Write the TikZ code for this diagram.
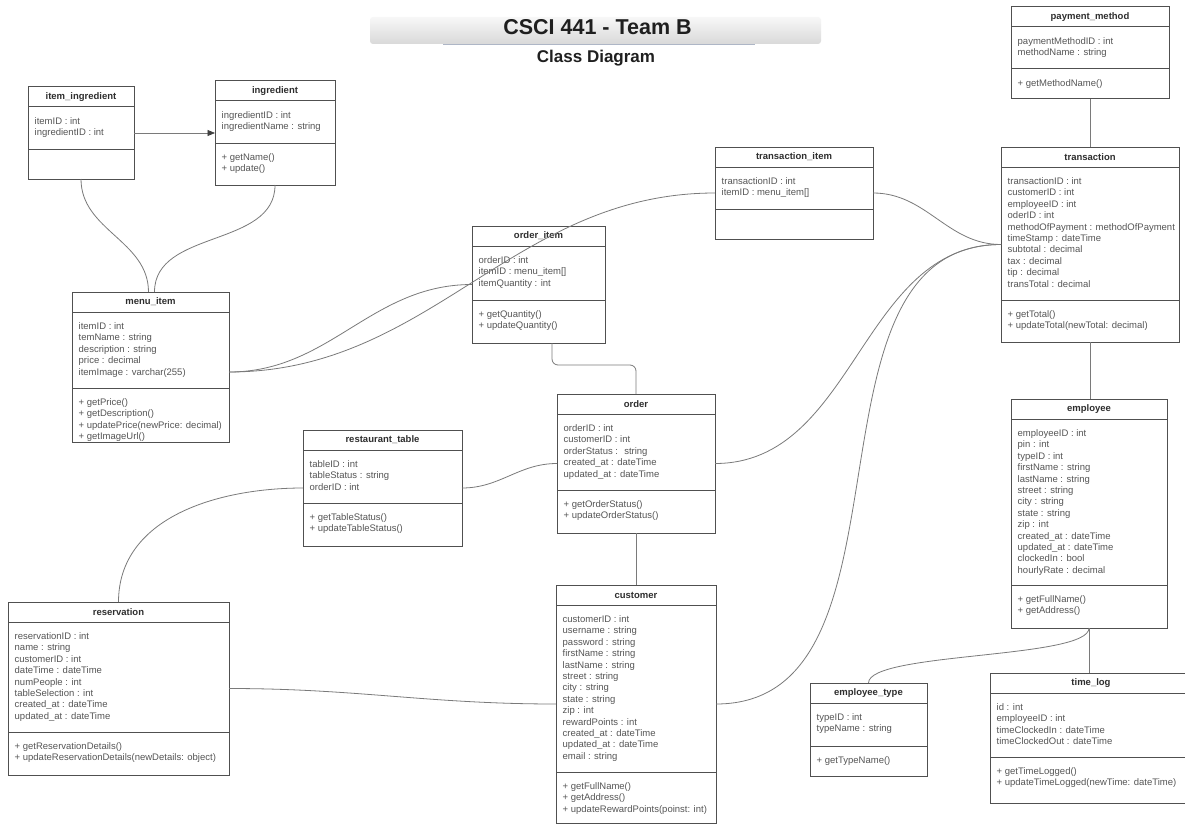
\documentclass[tikz,border=0pt]{standalone}
\usepackage{fontspec}
\setmainfont{Liberation Sans}
\usetikzlibrary{arrows.meta,fit}

\definecolor{boxline}{HTML}{505050}
\definecolor{wire}{HTML}{7A7A7A}
\definecolor{attrtext}{HTML}{555555}
\definecolor{titletext}{HTML}{2E2E2E}
\definecolor{bannerline}{HTML}{AEB6C6}

\tikzset{
  classframe/.style={draw=boxline, line width=1pt, inner sep=0pt, outer sep=0pt, fill=white},
  classtitle/.style={font=\bfseries\fontsize{9.5}{11.4}\selectfont, text=titletext, inner sep=0pt},
  members/.style={anchor=north west, align=left, inner sep=0pt,
    font=\fontsize{9.5}{11.4}\selectfont, text=attrtext},
  wire/.style={draw=wire, line width=0.8pt},
}

% UML class box:
% #1 name, #2 left, #3 top, #4 right, #5 bottom, #6 y of the methods rule,
% #7 class name, #8 attributes, #9 methods
\newcommand\umlclass[9]{%
  \node[classframe, fit={(#2,#3) (#4,#5)}] (#1) {};
  \draw[boxline, line width=1pt] (#2,#3+20) -- (#4,#3+20) (#2,#6) -- (#4,#6);
  \node[classtitle] at ({(#2+#4)/2},#3+10) {#7};
  \node[members] at (#2+6.5,#3+30.5) {#8};
  \node[members] at (#2+6.5,#6+10.5) {#9};
}

\begin{document}
\begin{tikzpicture}[x=1pt,y=-1pt]
\useasboundingbox (0,0) rectangle (1185,824);
\fill[white] (0,0) rectangle (1185,824);

% heading
\shade[top color=white!97!black, bottom color=white!85!black, rounded corners=3pt]
  (370,17) rectangle (821,44);
\draw[bannerline, line width=0.8pt] (443,44.5) -- (755,44.5);
\node[anchor=base, font=\bfseries\fontsize{21.5}{24}\selectfont, text=black!88, inner sep=0pt]
  (heading) at (597.5,34.3) {CSCI 441 - Team B};
\node[anchor=base, font=\bfseries\fontsize{17}{20}\selectfont, text=black!88, inner sep=0pt]
  (subheading) at (596,62.5) {Class Diagram};

% classes
\umlclass{ii}{28}{87}{134}{179}{149}{item\_ingredient}
  {itemID : int\\ingredientID : int}{}
\umlclass{ing}{215}{81}{335}{185}{143}{ingredient}
  {ingredientID : int\\ingredientName : string}
  {+ getName()\\+ update()}
\umlclass{menu}{72}{292}{229}{442}{388}{menu\_item}
  {itemID : int\\temName : string\\description : string\\price : decimal\\itemImage : varchar(255)}
  {+ getPrice()\\+ getDescription()\\+ updatePrice(newPrice: decimal)\\+ getImageUrl()}
\umlclass{oi}{472}{226}{605}{343}{300}{order\_item}
  {orderID : int\\itemID : menu\_item[]\\itemQuantity : int}
  {+ getQuantity()\\+ updateQuantity()}
\umlclass{ti}{715}{147}{873}{239}{209}{transaction\_item}
  {transactionID : int\\itemID : menu\_item[]}{}
\umlclass{tr}{1001}{147}{1179}{342}{300}{transaction}
  {transactionID : int\\customerID : int\\employeeID : int\\oderID : int\\methodOfPayment : methodOfPayment\\timeStamp : dateTime\\subtotal : decimal\\tax : decimal\\tip : decimal\\transTotal : decimal}
  {+ getTotal()\\+ updateTotal(newTotal: decimal)}
\umlclass{pm}{1011}{7}{1169}{99}{69}{payment\_method}
  {paymentMethodID : int\\methodName : string}
  {+ getMethodName()}
\umlclass{rt}{303}{430}{462}{546}{503}{restaurant\_table}
  {tableID : int\\tableStatus : string\\orderID : int}
  {+ getTableStatus()\\+ updateTableStatus()}
\umlclass{ord}{557}{394}{715}{533}{490}{order}
  {orderID : int\\customerID : int\\orderStatus : \ string\\created\_at : dateTime\\updated\_at : dateTime}
  {+ getOrderStatus()\\+ updateOrderStatus()}
\umlclass{res}{8}{602}{229}{775}{732}{reservation}
  {reservationID : int\\name : string\\customerID : int\\dateTime : dateTime\\numPeople : int\\tableSelection : int\\created\_at : dateTime\\updated\_at : dateTime}
  {+ getReservationDetails()\\+ updateReservationDetails(newDetails: object)}
\umlclass{cust}{556}{585}{716}{823}{772}{customer}
  {customerID : int\\username : string\\password : string\\firstName : string\\lastName : string\\street : string\\city : string\\state : string\\zip : int\\rewardPoints : int\\created\_at : dateTime\\updated\_at : dateTime\\email : string}
  {+ getFullName()\\+ getAddress()\\+ updateRewardPoints(poinst: int)}
\umlclass{emp}{1011}{399}{1167}{628}{585}{employee}
  {employeeID : int\\pin : int\\typeID : int\\firstName : string\\lastName : string\\street : string\\city : string\\state : string\\zip : int\\created\_at : dateTime\\updated\_at : dateTime\\clockedIn : bool\\hourlyRate : decimal}
  {+ getFullName()\\+ getAddress()}
\umlclass{et}{810}{683}{927}{776}{746}{employee\_type}
  {typeID : int\\typeName : string}
  {+ getTypeName()}
\umlclass{tl}{990}{673}{1192}{803}{757}{time\_log}
  {id : int\\employeeID : int\\timeClockedIn : dateTime\\timeClockedOut : dateTime}
  {+ getTimeLogged()\\+ updateTimeLogged(newTime: dateTime)}

% associations
\draw[wire, -{Triangle[length=7.5pt,width=6pt,color=black!75]}] (ii.east) -- (ing.west);
\draw[wire] (ii.south) to[out=-90,in=90] ([xshift=-2pt]menu.north);
\draw[wire] (ing.south) to[out=-90,in=90] ([xshift=4pt]menu.north);
\draw[wire] ([yshift=-5pt]menu.east) to[out=0,in=180] (oi.west);
\draw[wire] ([yshift=-5pt]menu.east) to[out=0,in=180] (ti.west);
\draw[wire, rounded corners=6pt] ([xshift=13.5pt]oi.south) -- ++(0,22) -| (ord.north);
\draw[wire] (ti.east) to[out=0,in=180] (tr.west);
\draw[wire] (ord.east) to[out=0,in=180] (tr.west);
\draw[wire] (cust.east) to[out=0,in=180] (tr.west);
\draw[wire] (pm.south) -- (pm.south |- tr.north);
\draw[wire] (tr.south) -- (tr.south |- emp.north);
\draw[wire] (ord.south) -- (ord.south |- cust.north);
\draw[wire] (rt.east) to[out=0,in=180] (ord.west);
\draw[wire] (rt.west) to[out=180,in=90] (res.north);
\draw[wire] (res.east) to[out=0,in=180] (cust.west);
\draw[wire] (emp.south) to[out=-90,in=90,looseness=0.35] (et.north);
\draw[wire] (emp.south) -- (emp.south |- tl.north);
\end{tikzpicture}
\end{document}
